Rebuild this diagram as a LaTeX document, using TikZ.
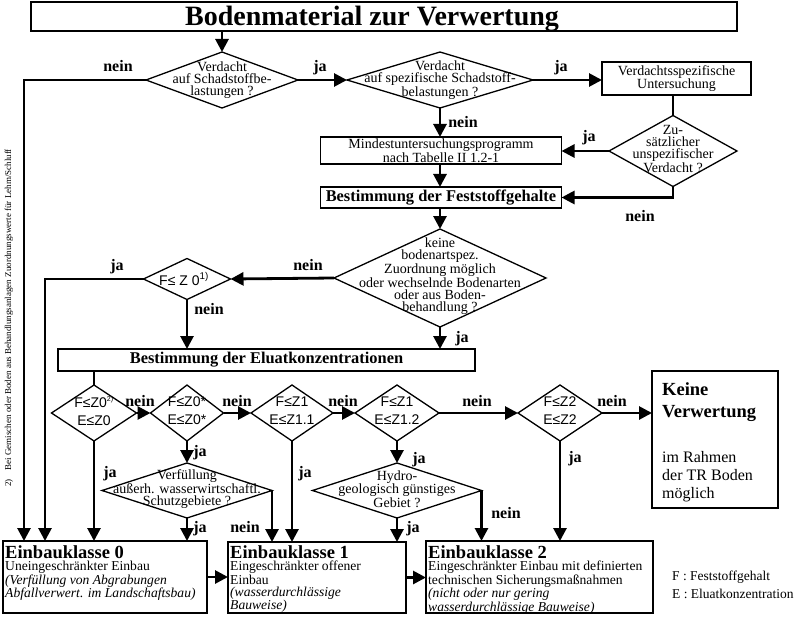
\documentclass[tikz,border=0pt]{standalone}
\usepackage{fontspec}
\setmainfont{Liberation Serif}
\newfontfamily\arialf{Liberation Sans}
\usetikzlibrary{shapes.geometric,arrows.meta}
\begin{document}
\begin{tikzpicture}[x=1pt,y=-1pt,
  conn/.style={line width=2.8pt},
  arr/.style={conn,-{Triangle[length=13pt,width=13pt]}},
  dia/.style={diamond,draw,line width=1.3pt,inner sep=0pt,outer sep=0pt},
  box/.style={draw,line width=1.5pt,inner sep=0pt,outer sep=0pt},
  dtxt/.style={align=center,inner sep=0pt,font=\fontsize{14}{12}\selectfont},
  ftxt/.style={align=center,inner sep=0pt,font=\arialf\fontsize{14}{18}\selectfont},
  lab/.style={font=\bfseries\fontsize{16}{16}\selectfont,inner sep=0pt,anchor=base},
  ektxt/.style={anchor=north west,inner sep=0pt,align=left,font=\fontsize{13.6}{11.8}\selectfont}
]
\useasboundingbox (0,0) rectangle (806,623);
\fill[white] (0,0) rectangle (806,623);
\coordinate (c24) at (24,0);
\coordinate (c45) at (45,0);

% title
\node[box,minimum width=706pt,minimum height=29pt] (T) at (384,16.5) {};
\node[font=\bfseries\fontsize{28}{28}\selectfont,inner sep=0pt,anchor=base] (Tt) at (372,26) {Bodenmaterial zur Verwertung};

% diamonds
\node[dia,minimum width=152pt,minimum height=56pt] (D1) at (222,80) {};
\node[dtxt] (D1t) at (222,80) {Verdacht\\auf Schadstoffbe-\\lastungen ?};
\node[dia,minimum width=186pt,minimum height=56pt] (D2) at (440,80) {};
\node[dtxt] (D2t) at (440,80) {Verdacht\\auf spezifische Schadstoff-\\belastungen ?};
\node[dia,minimum width=128pt,minimum height=71pt] (DZ) at (673,151) {};
\node[dtxt] (DZt) at (673,149) {Zu-\\sätzlicher\\unspezifischer\\Verdacht ?};
\node[dia,minimum width=212pt,minimum height=98pt] (DK) at (440,278) {};
\node[dtxt] (DKt) at (440,276) {keine\\bodenartspez.\\Zuordnung möglich\\oder wechselnde Bodenarten\\oder aus Boden-\\behandlung ?};
\node[dia,minimum width=87pt,minimum height=41pt] (DF0) at (187,279) {};
\node[ftxt] (DF0t) at (184,279) {F≤ Z 0\textsuperscript{1)}};
\node[dia,minimum width=85pt,minimum height=56pt] (DA) at (94,413) {};
\node[ftxt] (DAt) at (94,411) {F≤Z0\textsuperscript{\fontsize{7}{7}\selectfont 2)}\\E≤Z0};
\node[dia,minimum width=73pt,minimum height=56pt] (DB) at (187,413) {};
\node[ftxt] (DBt) at (187,411) {F≤Z0*\\E≤Z0*};
\node[dia,minimum width=82pt,minimum height=56pt] (DC) at (292,413) {};
\node[ftxt] (DCt) at (292,411) {F≤Z1\\E≤Z1.1};
\node[dia,minimum width=84pt,minimum height=56pt] (DD) at (397,413) {};
\node[ftxt] (DDt) at (397,411) {F≤Z1\\E≤Z1.2};
\node[dia,minimum width=84pt,minimum height=56pt] (DE) at (560,413) {};
\node[ftxt] (DEt) at (560,411) {F≤Z2\\E≤Z2};
\node[dia,minimum width=170pt,minimum height=55pt] (DV) at (187,490.5) {};
\node[dtxt] (DVt) at (187,489) {Verfüllung\\außerh. wasserwirtschaftl.\\Schutzgebiete ?};
\node[dia,minimum width=169pt,minimum height=55pt] (DH) at (397,490.5) {};
\node[dtxt] (DHt) at (397,489) {Hydro-\\geologisch günstiges\\Gebiet ?};

% boxes
\node[box,minimum width=149pt,minimum height=33pt,dtxt] (VS) at (676.5,78.5) {Verdachtsspezifische\\Untersuchung};
\node[box,minimum width=241pt,minimum height=27pt,dtxt] (MU) at (441,150.5) {Mindestuntersuchungsprogramm\\nach Tabelle II 1.2-1};
\node[box,minimum width=241pt,minimum height=21pt,font=\bfseries\fontsize{16.4}{16}\selectfont] (BF) at (441,197.5) {Bestimmung der Feststoffgehalte};
\node[box,minimum width=417pt,minimum height=22pt,font=\bfseries\fontsize{16.4}{16}\selectfont] (BE) at (266.5,360) {Bestimmung der Eluatkonzentrationen};
\node[box,minimum width=126pt,minimum height=137pt] (KV) at (715,439.5) {};
\node[anchor=north west,inner sep=0pt,align=left,font=\bfseries\fontsize{18.5}{22}\selectfont] (KVt1) at (662,382.5) {Keine\\Verwertung};
\node[anchor=north west,inner sep=0pt,align=left,font=\fontsize{16}{18}\selectfont] (KVt2) at (662,451) {im Rahmen\\der TR Boden\\möglich};

\node[box,minimum width=204pt,minimum height=72pt] (EK0) at (105,577) {};
\node[ektxt] (EK0t) at (5,545) {{\fontsize{18.5}{12}\selectfont\bfseries Einbauklasse 0}\\[1pt]Uneingeschränkter Einbau\\\textit{(Verfüllung von Abgrabungen}\\\textit{Abfallverwert. im Landschaftsbau)}};
\node[box,minimum width=178pt,minimum height=71pt] (EK1) at (317,577.5) {};
\node[ektxt] (EK1t) at (230,545) {{\fontsize{18.5}{12}\selectfont\bfseries Einbauklasse 1}\\[1pt]Eingeschränkter offener\\Einbau\\\textit{(wasserdurchlässige}\\\textit{Bauweise)}};
\node[box,minimum width=227pt,minimum height=72pt] (EK2) at (539.5,577) {};
\node[ektxt] (EK2t) at (428,545) {{\fontsize{18.5}{12}\selectfont\bfseries Einbauklasse 2}\\[1pt]Eingeschränkter Einbau mit definierten\\technischen Sicherungsmaßnahmen\\\textit{(nicht oder nur gering}\\\textit{wasserdurchlässige Bauweise)}};

% legend and footnote
\node[anchor=base west,inner sep=0pt,font=\fontsize{13.5}{13.5}\selectfont] (LF) at (672,580) {F : Feststoffgehalt};
\node[anchor=base west,inner sep=0pt,font=\fontsize{13.5}{13.5}\selectfont] (LE) at (672,598) {E : Eluatkonzentration};
\node[rotate=90,anchor=base west,inner sep=0pt,font=\fontsize{9}{9}\selectfont] (FN) at (11,487) {2)\quad Bei Gemischen oder Boden aus Behandlungsanlagen Zuordnungswerte für Lehm/Schluff};

% connectors
\draw[arr] (T.south -| D1.north) -- (D1.north);
\draw[arr] (D1.west) -| (EK0.north -| c24);
\draw[arr] (D1.east) -- (D2.west);
\draw[arr] (D2.east) -- (D2.east -| VS.west);
\draw[conn] (DZ.north |- VS.south) -- (DZ.north);
\draw[arr] (DZ.west) -- (DZ.west -| MU.east);
\draw[arr] (D2.south) -- (D2.south |- MU.north);
\draw[arr] (D2.south |- MU.south) -- (D2.south |- BF.north);
\draw[arr] (DZ.south) |- (BF.east);
\draw[arr] (DK.north |- BF.south) -- (DK.north);
\draw[arr] (DK.west) -- (DF0.east);
\draw[arr] (DF0.west) -| (EK0.north -| c45);
\draw[arr] (DF0.south) -- (DF0.south |- BE.north);
\draw[arr] (DK.south) -- (DK.south |- BE.north);
\draw[conn] (DA.north |- BE.south) -- (DA.north);
\draw[arr] (DA.east) -- (DB.west);
\draw[arr] (DB.east) -- (DC.west);
\draw[arr] (DC.east) -- (DD.west);
\draw[arr] (DD.east) -- (DE.west);
\draw[arr] (DE.east) -- (DE.east -| KV.west);
\draw[arr] (DA.south) -- (DA.south |- EK0.north);
\draw[arr] (DB.south) -- (DV.north);
\draw[arr] (DV.south) -- (DV.south |- EK0.north);
\draw[arr] (DV.east) -- (DV.east |- EK1.north);
\draw[arr] (DC.south) -- (DC.south |- EK1.north);
\draw[arr] (DD.south) -- (DH.north);
\draw[arr] (DH.south) -- (DH.south |- EK1.north);
\draw[arr] (DH.east) -- (DH.east |- EK2.north);
\draw[arr] (DE.south) -- (DE.south |- EK2.north);
\draw[arr] (EK0.east) -- (EK0.east -| EK1.west);
\draw[arr] (EK1.east) -- (EK1.east -| EK2.west);

% labels
\node[lab] (l1) at (118,72) {nein};
\node[lab] (l2) at (320,72) {ja};
\node[lab] (l3) at (561,72) {ja};
\node[lab] (l4) at (463,128) {nein};
\node[lab] (l5) at (589,142) {ja};
\node[lab] (l6) at (640,221) {nein};
\node[lab] (l7) at (308,270) {nein};
\node[lab] (l8) at (117,270) {ja};
\node[lab] (l9) at (209,314) {nein};
\node[lab] (l10) at (462,342) {ja};
\node[lab] (l11) at (140,406) {nein};
\node[lab] (l12) at (237,406) {nein};
\node[lab] (l13) at (343,406) {nein};
\node[lab] (l14) at (477,406) {nein};
\node[lab] (l15) at (612,406) {nein};
\node[lab] (l16) at (110,477) {ja};
\node[lab] (l17) at (200,456) {ja};
\node[lab] (l18) at (200,532) {ja};
\node[lab] (l19) at (245,532) {nein};
\node[lab] (l20) at (305,477) {ja};
\node[lab] (l21) at (419,463) {ja};
\node[lab] (l22) at (413,532) {ja};
\node[lab] (l23) at (506,518) {nein};
\node[lab] (l24) at (575,462) {ja};
\end{tikzpicture}
\end{document}
